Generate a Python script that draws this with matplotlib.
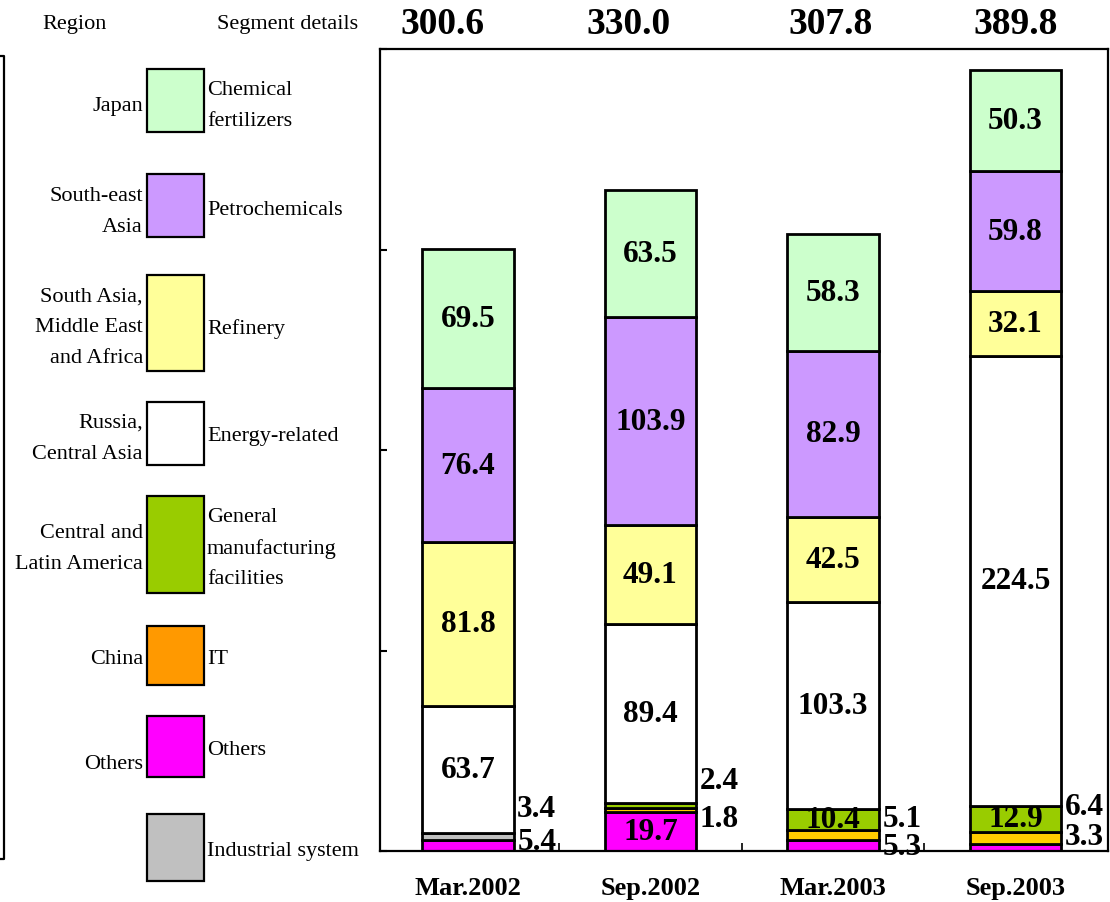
import matplotlib
matplotlib.use("Agg")
import matplotlib.pyplot as plt
from matplotlib.lines import Line2D
from matplotlib.patches import Rectangle

plt.rcParams['font.family'] = ['Liberation Serif', 'DejaVu Serif']

W, H = 1110, 903

# ---- data -------------------------------------------------------------
periods = ['Mar.2002', 'Sep.2002', 'Mar.2003', 'Sep.2003']
totals = ['300.6', '330.0', '307.8', '389.8']

# segments stacked bottom -> top
others = [5.4, 19.7, 5.3, 3.3]
industrial = [3.4, 0.0, 0.0, 0.0]
it_seg = [0.0, 1.8, 5.1, 6.4]
general_mfg = [0.0, 2.4, 10.4, 12.9]
energy = [63.7, 89.4, 103.3, 224.5]
refinery = [81.8, 49.1, 42.5, 32.1]
petrochem = [76.4, 103.9, 82.9, 59.8]
fertilizers = [69.5, 63.5, 58.3, 50.3]

stack = [others, industrial, it_seg, general_mfg, energy, refinery, petrochem, fertilizers]
bar_colors = ['#FF00FF', '#C0C0C0', '#FFCC00', '#99CC00', '#FFFFFF', '#FFFF99', '#CC99FF', '#CCFFCC']

# legend rows, top -> bottom
legend_regions = [['Japan'], ['South-east', 'Asia'], ['South Asia,', 'Middle East', 'and Africa'],
                  ['Russia,', 'Central Asia'], ['Central and', 'Latin America'], ['China'],
                  ['Others'], []]
legend_segments = [['Chemical', 'fertilizers'], ['Petrochemicals'], ['Refinery'], ['Energy-related'],
                   ['General', 'manufacturing', 'facilities'], ['IT'], ['Others'], ['Industrial system']]
legend_colors = ['#CCFFCC', '#CC99FF', '#FFFF99', '#FFFFFF', '#99CC00', '#FF9900', '#FF00FF', '#C0C0C0']

# ---- layout (pixels) ---------------------------------------------------
swatch_rows = [(70, 133), (175, 238), (276, 372), (403, 466), (497, 594), (627, 686), (717, 778), (815, 882)]
region_y = [106, 212, 328, 439, 549, 659, 765, None]
segment_y = [106, 211, 329, 437, 549, 659, 751, 852]
line_gap = 31
totals_x = [442, 628, 831, 1016]

# small values written beside the bars: (bar, series index, label centre in data units)
side_labels = [(0, 1, 21), (0, 0, 4.5),
               (1, 3, 35), (1, 2, 16),
               (2, 2, 16), (2, 0, 2),
               (3, 2, 22), (3, 0, 7)]


def fx(x):
    return x / W


def fy(y):
    return 1 - y / H


fig = plt.figure(figsize=(W / 100, H / 100), dpi=100)
fig.patch.set_facecolor('white')

ax = fig.add_axes([fx(380), fy(852), 728 / W, 802 / H])
x = list(range(len(periods)))
width = 0.5
lw = 2.0

bottoms = [0.0] * len(periods)
for series, color in zip(stack, bar_colors):
    idx = [i for i, v in enumerate(series) if v > 0]
    ax.bar([x[i] for i in idx], [series[i] for i in idx], width=width,
           bottom=[bottoms[i] for i in idx], color=color, edgecolor='black',
           linewidth=lw, zorder=2)
    for i in idx:
        v = series[i]
        if v >= 10:
            ax.text(x[i], bottoms[i] + v / 2, f'{v:.1f}', ha='center', va='center',
                    fontsize=22.5, fontweight='bold', zorder=5)
    bottoms = [b + v for b, v in zip(bottoms, series)]

for bi, si, ly in side_labels:
    ax.text(x[bi] + width / 2 + 0.02, ly, f'{stack[si][bi]:.1f}', ha='left', va='center',
            fontsize=22.5, fontweight='bold', zorder=5)

ax.set_xlim(-0.482, 3.507)
ax.set_ylim(0, 400)
ax.set_yticks([0, 100, 200, 300, 400])
ax.set_yticklabels([])
ax.tick_params(axis='y', direction='in', length=5, width=1.5)
ax.set_xticks(x)
ax.set_xticklabels(periods, fontsize=19, fontweight='bold')
ax.tick_params(axis='x', which='major', length=0, pad=18)
ax.set_xticks([0.5, 1.5, 2.5], minor=True)
ax.tick_params(axis='x', which='minor', direction='in', length=6, width=1.2)
for s in ax.spines.values():
    s.set_linewidth(1.6)

# totals above the bars
for t, px in zip(totals, totals_x):
    fig.text(fx(px), fy(25), t, ha='center', va='center', fontsize=27, fontweight='bold')

# headers
fig.text(fx(75), fy(25), 'Region', ha='center', va='center', fontsize=16)
fig.text(fx(288), fy(25), 'Segment details', ha='center', va='center', fontsize=16)

# legend swatches and labels
for k in range(len(legend_colors)):
    y0, y1 = swatch_rows[k]
    fig.add_artist(Rectangle((fx(147), fy(y1)), 57 / W, (y1 - y0) / H,
                             transform=fig.transFigure, facecolor=legend_colors[k],
                             edgecolor='black', linewidth=1.6))
    lines = legend_regions[k]
    if lines:
        n = len(lines)
        for j, s in enumerate(lines):
            yy = region_y[k] + (j - (n - 1) / 2) * line_gap
            fig.text(fx(143), fy(yy), s, ha='right', va='center', fontsize=16)
    lines = legend_segments[k]
    n = len(lines)
    for j, s in enumerate(lines):
        yy = segment_y[k] + (j - (n - 1) / 2) * line_gap
        fig.text(fx(207), fy(yy), s, ha='left', va='center', fontsize=16)

# bracket grouping the region column
fig.add_artist(Line2D([fx(0), fx(4), fx(4), fx(0)], [fy(57), fy(57), fy(860), fy(860)],
                      transform=fig.transFigure, color='black', linewidth=1.6))

fig.savefig('out.png', dpi=100, facecolor='white')
